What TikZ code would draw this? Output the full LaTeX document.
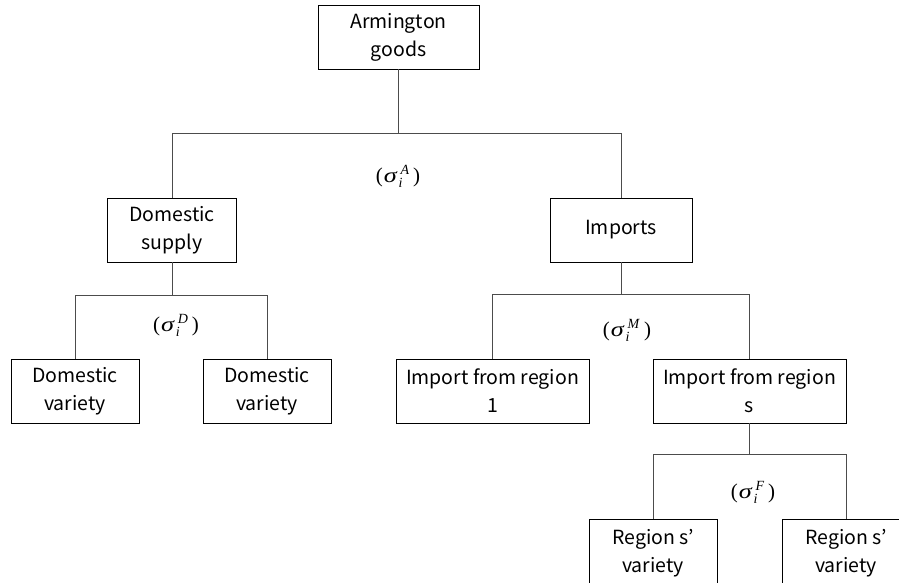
\documentclass[tikz,border=0pt]{standalone}
\usepackage{fontspec}
\newfontfamily\gothic{Noto Sans CJK JP}
\newfontfamily\tnr{Liberation Serif}
\newcommand{\sigmalabel}[1]{{\tnr\fontsize{21}{22}\selectfont(\kern1pt\scalebox{1.25}[1]{\textit{σ}}\kern1pt\rlap{\raisebox{-5pt}{\fontsize{14}{14}\selectfont\textit{i}}}\raisebox{8pt}{\fontsize{14}{14}\selectfont\kern2pt\textit{#1}}\kern4pt)}}
\begin{document}
\begin{tikzpicture}[x=1pt,y=-1pt,
  box/.style={draw=black,line width=0.8pt,align=center,inner sep=0pt,
    minimum height=64pt,font=\gothic\fontsize{19.5}{28}\selectfont},
  conn/.style={draw=black!70,line width=0.8pt},
  sig/.style={inner sep=0pt}]
\useasboundingbox (0,0) rectangle (899,583);
\clip (0,0) rectangle (899,583);
\node[box,minimum width=161pt] (arm) at (398.5,37) {Armington\\goods};
\node[box,minimum width=129pt] (dsup) at (172,230) {Domestic\\supply};
\node[box,minimum width=142pt] (imp) at (621,230) {Imports};
\node[box,minimum width=128pt] (dv1) at (75,391) {Domestic\\variety};
\node[box,minimum width=128pt] (dv2) at (267,391) {Domestic\\variety};
\node[box,minimum width=193pt] (ir1) at (492.5,391) {Import from region\\1};
\node[box,minimum width=193pt] (irs) at (749.5,391) {Import from region\\s};
\node[box,minimum width=128pt,minimum height=68pt] (rv1) at (653,553) {Region s’\\variety};
\node[box,minimum width=128pt,minimum height=68pt] (rv2) at (846,553) {Region s’\\variety};
\coordinate (barA) at (0,133);
\coordinate (barD) at (0,295);
\coordinate (barM) at (0,294);
\coordinate (barF) at (0,454);
\draw[conn] (arm.south) -- (arm.south |- barA);
\draw[conn] (dsup.north) -- (dsup.north |- barA) -- (imp.north |- barA) -- (imp.north);
\draw[conn] (dsup.south) -- (dsup.south |- barD);
\draw[conn] (dv1.north) -- (dv1.north |- barD) -- (dv2.north |- barD) -- (dv2.north);
\draw[conn] (imp.south) -- (imp.south |- barM);
\draw[conn] (ir1.north) -- (ir1.north |- barM) -- (irs.north |- barM) -- (irs.north);
\draw[conn] (irs.south) -- (irs.south |- barF);
\draw[conn] (rv1.north) -- (rv1.north |- barF) -- (rv2.north |- barF) -- (rv2.north);
\node[sig] (sA) at (398,176) {\sigmalabel{A}};
\node[sig] (sD) at (176,325) {\sigmalabel{D}};
\node[sig] (sM) at (627,330) {\sigmalabel{M}};
\node[sig] (sF) at (753,492) {\sigmalabel{F}};
\end{tikzpicture}
\end{document}
